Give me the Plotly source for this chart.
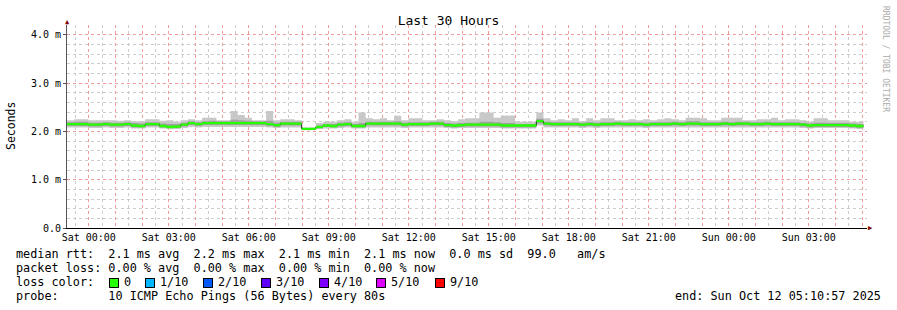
import pandas as pd
import plotly.graph_objects as go

# ---------------- data (ms) ----------------
start_time = "2025-10-10 23:10:57"
end_time = "2025-10-12 05:10:57"
step_seconds = 960

median = [2.15, 2.15, 2.15, 2.14, 2.14, 2.15, 2.14, 2.14, 2.15, 2.12,
          2.11, 2.15, 2.15, 2.11, 2.09, 2.10, 2.14, 2.17, 2.15, 2.17,
          2.17, 2.17, 2.17, 2.17, 2.17, 2.17, 2.17, 2.17, 2.15, 2.13,
          2.16, 2.16, 2.16, 2.05, 2.05, 2.09, 2.12, 2.11, 2.14, 2.15,
          2.11, 2.11, 2.16, 2.16, 2.16, 2.16, 2.16, 2.14, 2.15, 2.15,
          2.15, 2.16, 2.16, 2.13, 2.12, 2.13, 2.14, 2.14, 2.14, 2.14,
          2.14, 2.12, 2.12, 2.12, 2.12, 2.12, 2.21, 2.16, 2.15, 2.15,
          2.15, 2.15, 2.14, 2.15, 2.14, 2.15, 2.15, 2.16, 2.15, 2.15,
          2.15, 2.14, 2.15, 2.15, 2.15, 2.16, 2.15, 2.16, 2.16, 2.15,
          2.15, 2.15, 2.16, 2.15, 2.16, 2.16, 2.15, 2.15, 2.16, 2.15,
          2.15, 2.15, 2.15, 2.14, 2.12, 2.13, 2.13, 2.13, 2.13, 2.13,
          2.12, 2.11]

smoke_max = [2.23, 2.25, 2.25, 2.23, 2.23, 2.23, 2.23, 2.22, 2.23, 2.21,
             2.21, 2.25, 2.25, 2.22, 2.23, 2.20, 2.23, 2.25, 2.23, 2.28,
             2.28, 2.23, 2.23, 2.42, 2.34, 2.28, 2.23, 2.23, 2.42, 2.23,
             2.25, 2.25, 2.23, 2.08, 2.08, 2.17, 2.20, 2.20, 2.23, 2.25,
             2.20, 2.39, 2.27, 2.25, 2.27, 2.23, 2.32, 2.23, 2.27, 2.27,
             2.23, 2.23, 2.25, 2.23, 2.21, 2.25, 2.27, 2.27, 2.39, 2.39,
             2.28, 2.33, 2.33, 2.20, 2.20, 2.20, 2.39, 2.27, 2.23, 2.25,
             2.23, 2.27, 2.21, 2.27, 2.23, 2.27, 2.27, 2.23, 2.23, 2.25,
             2.23, 2.25, 2.23, 2.25, 2.27, 2.25, 2.23, 2.28, 2.28, 2.27,
             2.23, 2.23, 2.28, 2.28, 2.28, 2.23, 2.23, 2.25, 2.25, 2.28,
             2.23, 2.25, 2.25, 2.23, 2.20, 2.27, 2.27, 2.23, 2.23, 2.23,
             2.20, 2.20]

smoke_hi = [2.19, 2.20, 2.20, 2.18, 2.18, 2.19, 2.18, 2.18, 2.19, 2.17,
            2.16, 2.19, 2.19, 2.16, 2.15, 2.15, 2.18, 2.21, 2.19, 2.21,
            2.22, 2.21, 2.21, 2.24, 2.23, 2.22, 2.21, 2.21, 2.22, 2.18,
            2.20, 2.20, 2.20, 2.07, 2.07, 2.12, 2.15, 2.15, 2.18, 2.19,
            2.15, 2.17, 2.20, 2.20, 2.20, 2.20, 2.21, 2.18, 2.19, 2.19,
            2.19, 2.20, 2.20, 2.17, 2.16, 2.17, 2.18, 2.18, 2.20, 2.20,
            2.19, 2.17, 2.17, 2.15, 2.15, 2.15, 2.26, 2.20, 2.19, 2.19,
            2.19, 2.19, 2.18, 2.19, 2.18, 2.19, 2.19, 2.20, 2.19, 2.19,
            2.19, 2.18, 2.19, 2.19, 2.19, 2.20, 2.19, 2.21, 2.21, 2.19,
            2.19, 2.19, 2.20, 2.19, 2.20, 2.20, 2.19, 2.19, 2.20, 2.19,
            2.19, 2.19, 2.19, 2.18, 2.16, 2.18, 2.18, 2.17, 2.17, 2.17,
            2.16, 2.15]

smoke_lo = [2.11, 2.11, 2.11, 2.10, 2.10, 2.11, 2.10, 2.10, 2.11, 2.08,
            2.08, 2.11, 2.11, 2.08, 2.07, 2.07, 2.10, 2.13, 2.11, 2.13,
            2.13, 2.13, 2.13, 2.13, 2.13, 2.13, 2.13, 2.13, 2.11, 2.09,
            2.12, 2.12, 2.12, 2.03, 2.03, 2.07, 2.09, 2.08, 2.10, 2.11,
            2.08, 2.08, 2.12, 2.12, 2.12, 2.12, 2.12, 2.10, 2.11, 2.11,
            2.11, 2.12, 2.12, 2.09, 2.08, 2.09, 2.10, 2.10, 2.10, 2.10,
            2.10, 2.08, 2.08, 2.08, 2.08, 2.08, 2.16, 2.12, 2.11, 2.11,
            2.11, 2.11, 2.10, 2.11, 2.10, 2.11, 2.11, 2.12, 2.11, 2.11,
            2.11, 2.10, 2.11, 2.11, 2.11, 2.12, 2.11, 2.12, 2.12, 2.11,
            2.11, 2.11, 2.12, 2.11, 2.12, 2.12, 2.11, 2.11, 2.12, 2.11,
            2.11, 2.11, 2.11, 2.10, 2.08, 2.09, 2.09, 2.09, 2.09, 2.09,
            2.08, 2.07]

smoke_min = [2.08, 2.08, 2.08, 2.07, 2.07, 2.08, 2.07, 2.07, 2.08, 2.06,
             2.06, 2.08, 2.08, 2.06, 2.05, 2.05, 2.07, 2.09, 2.08, 2.09,
             2.09, 2.09, 2.09, 2.09, 2.09, 2.09, 2.09, 2.09, 2.08, 2.07,
             2.08, 2.08, 2.08, 2.02, 2.02, 2.05, 2.06, 2.06, 2.07, 2.08,
             2.06, 2.06, 2.08, 2.08, 2.08, 2.08, 2.08, 2.07, 2.08, 2.08,
             2.08, 2.08, 2.08, 2.07, 2.06, 2.07, 2.07, 2.07, 2.07, 2.07,
             2.07, 2.06, 2.06, 2.06, 2.06, 2.06, 2.12, 2.08, 2.08, 2.08,
             2.08, 2.08, 2.07, 2.08, 2.07, 2.08, 2.08, 2.08, 2.08, 2.08,
             2.08, 2.07, 2.08, 2.08, 2.08, 2.08, 2.08, 2.08, 2.08, 2.08,
             2.08, 2.08, 2.08, 2.08, 2.08, 2.08, 2.08, 2.08, 2.08, 2.08,
             2.08, 2.08, 2.08, 2.07, 2.06, 2.07, 2.07, 2.07, 2.07, 2.07,
             2.06, 2.05]

y_tick_vals = [0, 1, 2, 3, 4]
y_tick_text = ["0.0", "1.0 m", "2.0 m", "3.0 m", "4.0 m"]

loss_labels = ["0", "1/10", "2/10", "3/10", "4/10", "5/10", "9/10"]
loss_colors = ["#26ff00", "#00b8ff", "#0059ff", "#5e00ff", "#7e00ff", "#dd00ff", "#ff0000"]

stats_line = "median rtt:  2.1 ms avg  2.2 ms max  2.1 ms min  2.1 ms now  0.0 ms sd  99.0   am/s"
loss_line = "packet loss: 0.00 % avg  0.00 % max  0.00 % min  0.00 % now"
probe_line = "probe:       10 ICMP Echo Pings (56 Bytes) every 80s"
end_line = "end: Sun Oct 12 05:10:57 2025"

# ---------------- geometry ----------------
W, H = 897, 310
L, R, T, B = 67, 867, 25, 228
MONO = "DejaVu Sans Mono"


def px(x):
    return (x - L) / (R - L)


def py(y):
    return (B - y) / (B - T)


def nb(s):
    return s.replace(" ", "\u00a0")


n = len(median)
edges = pd.date_range(start_time, periods=n + 1, freq=f"{step_seconds}s")


def ext(a):
    return list(a) + [a[-1]]


band = 0.024  # half-height of the median band (ms)
med_lo = [m - band for m in median]
med_hi = [m + band for m in median]

fig = go.Figure()


def add(y, fill=None, color="rgba(0,0,0,0)", fillcolor=None, width=0):
    fig.add_trace(go.Scatter(
        x=edges, y=ext(y), mode="lines", line_shape="hv",
        line=dict(color=color, width=width),
        fill=fill, fillcolor=fillcolor, hoverinfo="skip", showlegend=False))


add(smoke_min)
add(smoke_max, fill="tonexty", fillcolor="#c8c8c8")
add(smoke_lo)
add(smoke_hi, fill="tonexty", fillcolor="#a0a0a0")
add(median, color="#202020", width=1)
add(med_lo)
add(med_hi, fill="tonexty", fillcolor="#26ff00")

hour_ticks = pd.date_range("2025-10-11 00:00", end_time, freq="1h")
hour_text = [t.strftime("%a %H:%M") if t.hour % 3 == 0 else "" for t in hour_ticks]
half_hours = pd.date_range("2025-10-10 23:30", end_time, freq="1h")
y_minor = [v / 10 for v in range(2, 42, 2) if v % 10 != 0]

RED_GRID = "#f09a9a"
GREY_GRID = "#cdcdcd"

fig.update_layout(
    width=W, height=H, autosize=False,
    margin=dict(l=L, r=W - R, t=T, b=H - B, pad=0),
    paper_bgcolor="white", plot_bgcolor="white",
    font=dict(family=MONO, color="black", size=10),
    showlegend=False,
    title=dict(text="Last 30 Hours", x=448.5 / W, xanchor="center",
               y=1 - 20 / H, yanchor="middle", xref="container", yref="container",
               font=dict(family=MONO, size=13, color="black")),
    xaxis=dict(
        type="date", range=[start_time, end_time],
        tickmode="array", tickvals=hour_ticks, ticktext=hour_text,
        showgrid=True, gridcolor=RED_GRID, griddash="dot", gridwidth=1,
        minor=dict(tickmode="array", tickvals=half_hours, showgrid=True,
                   gridcolor=GREY_GRID, griddash="dot", gridwidth=1),
        showline=True, linecolor="black", linewidth=1,
        ticks="", zeroline=False, tickfont=dict(family=MONO, size=10),
        fixedrange=True,
    ),
    yaxis=dict(
        range=[0, 4.2], tickmode="array", tickvals=y_tick_vals, ticktext=y_tick_text,
        showgrid=True, gridcolor=RED_GRID, griddash="dot", gridwidth=1,
        minor=dict(tickmode="array", tickvals=y_minor, showgrid=True,
                   gridcolor=GREY_GRID, griddash="dot", gridwidth=1),
        showline=True, linecolor="#555555", linewidth=1,
        ticks="outside", ticklen=3, tickcolor="#555555",
        zeroline=False, tickfont=dict(family=MONO, size=10),
        fixedrange=True,
    ),
)

ann = []
# axis arrows
ann.append(dict(x=px(67), y=py(22), xref="paper", yref="paper", text="\u25b2",
                showarrow=False, font=dict(size=7, color="#800000"),
                xanchor="center", yanchor="middle"))
ann.append(dict(x=px(871), y=py(228), xref="paper", yref="paper", text="\u25b6",
                showarrow=False, font=dict(size=7, color="#800000"),
                xanchor="center", yanchor="middle"))
# y axis label
ann.append(dict(x=px(11), y=py(126), xref="paper", yref="paper", text="Seconds",
                textangle=-90, showarrow=False, font=dict(family=MONO, size=11.5),
                xanchor="center", yanchor="middle"))
# watermark
ann.append(dict(x=px(886), y=py(59), xref="paper", yref="paper",
                text=nb("RRDTOOL / TOBI OETIKER"), textangle=90, showarrow=False,
                font=dict(family=MONO, size=8, color="#aaaaaa"),
                xanchor="center", yanchor="middle"))

LEG = 11.8
for txt, yy in [(stats_line, 254), (loss_line, 268), ("loss color:", 282), (probe_line, 296)]:
    ann.append(dict(x=px(15), y=py(yy), xref="paper", yref="paper", text=nb(txt),
                    showarrow=False, font=dict(family=MONO, size=LEG),
                    xanchor="left", yanchor="middle", borderpad=0))
ann.append(dict(x=px(882), y=py(296), xref="paper", yref="paper", text=nb(end_line),
                showarrow=False, font=dict(family=MONO, size=LEG),
                xanchor="right", yanchor="middle", borderpad=0))

box_left = [109, 145, 203, 261, 319, 376, 435]
for bl, lab, col in zip(box_left, loss_labels, loss_colors):
    ann.append(dict(x=px(bl + 5), y=py(282.5), xref="paper", yref="paper", text=" ",
                    showarrow=False, width=8, height=8, bgcolor=col,
                    bordercolor="black", borderwidth=1, borderpad=0,
                    font=dict(size=6), xanchor="center", yanchor="middle"))
    ann.append(dict(x=px(bl + 14), y=py(282), xref="paper", yref="paper", text=nb(lab),
                    showarrow=False, font=dict(family=MONO, size=LEG),
                    xanchor="left", yanchor="middle", borderpad=0))

fig.update_layout(annotations=ann)

fig.write_html("out.html")
